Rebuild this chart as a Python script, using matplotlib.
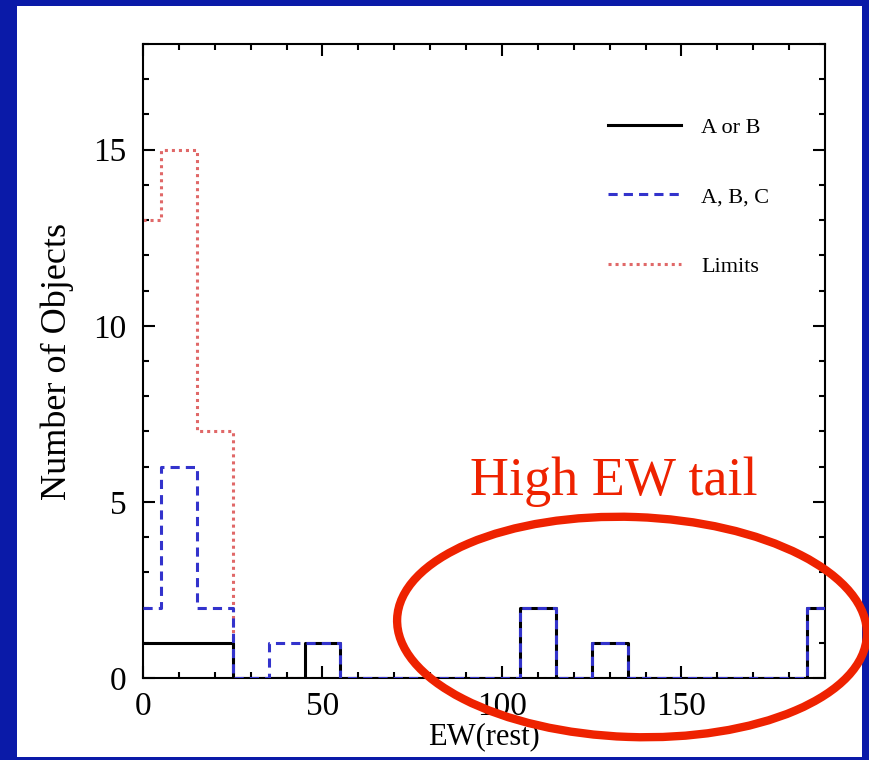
import numpy as np
import matplotlib
matplotlib.use("Agg")
import matplotlib.pyplot as plt
from matplotlib.patches import Rectangle, Ellipse
from matplotlib.ticker import MultipleLocator

# histogram bin centres (bin width 10) and counts
ew_centres = [0, 10, 20, 30, 40, 50, 60, 70, 80, 90, 100, 110, 120, 130, 140, 150, 160, 170, 180, 190]
n_a_or_b = [1, 1, 1, 0, 0, 1, 0, 0, 0, 0, 0, 2, 0, 1, 0, 0, 0, 0, 0, 2]
n_abc = [2, 6, 2, 0, 1, 1, 0, 0, 0, 0, 0, 2, 0, 1, 0, 0, 0, 0, 0, 2]
n_limits = [13, 15, 7, 0, 0, 0, 0, 0, 0, 0, 0, 0, 0, 0, 0, 0, 0, 0, 0, 0]
labels = ["A or B", "A, B, C", "Limits"]

plt.rcParams["font.family"] = ["Liberation Serif", "DejaVu Serif"]

fig = plt.figure(figsize=(8.7, 7.6), dpi=100)
fig.patch.set_facecolor("#0a1aa8")
fig.patches.append(Rectangle((17 / 870, 3 / 760), 845 / 870, 751 / 760,
                             transform=fig.transFigure, facecolor="white",
                             edgecolor="none", zorder=-10))

ax = fig.add_axes([143 / 870, 82 / 760, 682 / 870, 634 / 760])
ax.set_zorder(1)
ax.set_facecolor("white")

ax.plot(ew_centres, n_limits, drawstyle="steps-mid", color="#e06868",
        ls=(0, (1, 1.3)), lw=2.2, label=labels[2], zorder=2)
ax.plot(ew_centres, n_a_or_b, drawstyle="steps-mid", color="black",
        lw=2.2, label=labels[0], zorder=3)
ax.plot(ew_centres, n_abc, drawstyle="steps-mid", color="#3333cc",
        ls=(0, (3, 2)), lw=2.2, label=labels[1], zorder=4)

ax.set_xlim(0, 190)
ax.set_ylim(0, 18)
ax.xaxis.set_major_locator(MultipleLocator(50))
ax.xaxis.set_minor_locator(MultipleLocator(10))
ax.yaxis.set_major_locator(MultipleLocator(5))
ax.yaxis.set_minor_locator(MultipleLocator(1))
ax.tick_params(which="both", direction="in", top=True, right=True, width=1.5)
ax.tick_params(which="major", length=8.5, labelsize=24)
ax.tick_params(axis="x", which="major", pad=10)
ax.tick_params(axis="y", which="major", pad=12)
ax.tick_params(which="minor", length=4.5)
for s in ax.spines.values():
    s.set_linewidth(1.5)

ax.set_ylabel("Number of Objects", fontsize=26, labelpad=14)
ax.set_xlabel("EW(rest)", fontsize=22, labelpad=0)

h, l = ax.get_legend_handles_labels()
order = [1, 2, 0]
leg = ax.legend([h[i] for i in order], [l[i] for i in order], loc="upper left",
                bbox_to_anchor=(0.665, 0.902), frameon=False, fontsize=16,
                borderpad=0, handlelength=3.3, labelspacing=2.2, handletextpad=0.9)

fig.text(470 / 870, 1 - 482 / 760, "High EW tail", color="#ee2200",
         fontsize=39, va="center", ha="left", zorder=10)
fig.patches.append(Ellipse((6.32, 7.6 - 6.27), 4.7, 2.2, angle=-2,
                           transform=fig.dpi_scale_trans, fill=False,
                           edgecolor="#ee2200", lw=6, zorder=10))

fig.savefig("out.png", dpi=100, facecolor=fig.get_facecolor())
